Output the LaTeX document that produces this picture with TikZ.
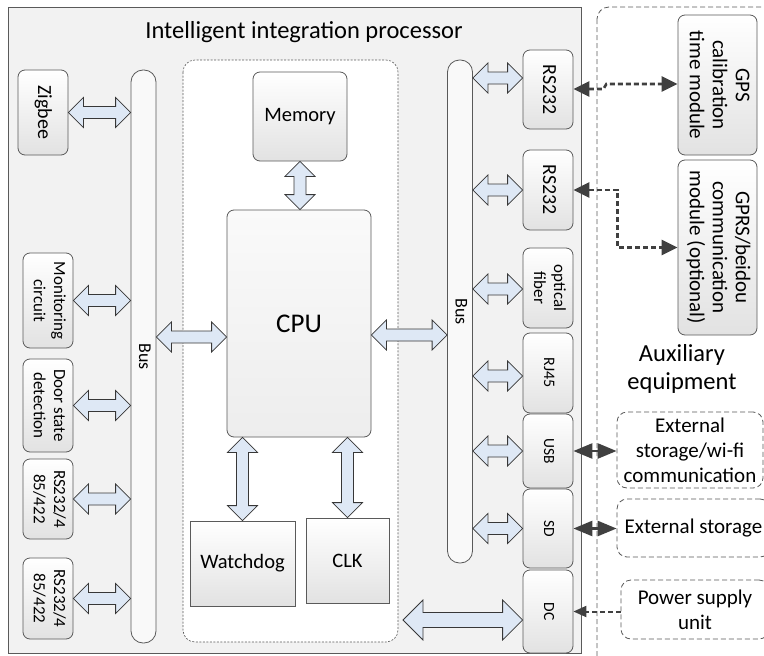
\documentclass[tikz,border=0pt]{standalone}
\usepackage{fontspec}
\setmainfont{Carlito}
\usepackage{graphicx}
\usetikzlibrary{arrows.meta,calc}
\definecolor{procbg}{RGB}{242,242,242}
\definecolor{boxline}{RGB}{90,90,90}
\definecolor{boxlow}{RGB}{226,226,226}
\definecolor{fatfill}{RGB}{222,232,245}
\definecolor{fatline}{RGB}{55,55,55}
\definecolor{linkc}{RGB}{64,64,64}

\newcommand{\vtext}[1]{\rotatebox{-90}{\begin{tabular}{@{}c@{}}#1\end{tabular}}}
\newcommand{\fsz}[2]{\fontsize{#1}{#2}\selectfont}
\def\ahw{15pt}
\def\ash{6pt}
\def\ahl{15pt}

\begin{document}
\begin{tikzpicture}[
    x=1pt, y=-1pt,
    >={Triangle[length=16pt,width=15pt]},
    frame/.style={draw=boxline, line width=0.8pt},
    box/.style={draw=boxline, line width=0.8pt, rounded corners=7pt, top color=white, bottom color=boxlow, inner sep=0pt},
    sqbox/.style={box, rounded corners=0pt},
    port/.style={box, minimum width=50pt, font=\fsz{17}{20}},
    aux/.style={box, minimum width=79pt, font=\fsz{21}{23}},
    bus/.style={draw=boxline, line width=0.8pt, rounded corners=12pt, fill=gray!5, minimum width=25pt, inner sep=0pt, font=\fsz{18}{22}},
    ext/.style={draw=boxline, line width=0.8pt, dash pattern=on 5pt off 3pt, rounded corners=10pt, fill=white, inner sep=0pt, font=\fsz{21}{25}, align=center},
    fat/.style={draw=fatline, fill=fatfill, line width=0.8pt},
    hfat/.style={fat, to path={let \p1=(\tikztostart), \p2=(\tikztotarget) in
      (\x1,\y1) -- (\x1+\ahl,\y1+\ahw) -- (\x1+\ahl,\y1+\ash) -- (\x2-\ahl,\y1+\ash) -- (\x2-\ahl,\y1+\ahw) -- (\x2,\y1)
      -- (\x2-\ahl,\y1-\ahw) -- (\x2-\ahl,\y1-\ash) -- (\x1+\ahl,\y1-\ash) -- (\x1+\ahl,\y1-\ahw) -- cycle}},
    vfat/.style={fat, to path={let \p1=(\tikztostart), \p2=(\tikztotarget) in
      (\x1,\y1) -- (\x1+\ahw,\y1-\ahl) -- (\x1+\ash,\y1-\ahl) -- (\x1+\ash,\y2+\ahl) -- (\x1+\ahw,\y2+\ahl) -- (\x1,\y2)
      -- (\x1-\ahw,\y2+\ahl) -- (\x1-\ash,\y2+\ahl) -- (\x1-\ash,\y1-\ahl) -- (\x1-\ahw,\y1-\ahl) -- cycle}},
    bigfat/.style={hfat, /utils/exec={\def\ahw{20pt}\def\ash{7.5pt}\def\ahl{20pt}}},
    link/.style={draw=linkc, line width=2.6pt, dash pattern=on 5pt off 3pt},
    solidlink/.style={draw=linkc, line width=2.6pt, >={Triangle[length=19pt,width=15pt]}},
  ]
  \useasboundingbox (0,0) rectangle (764,656);

  % frames
  \draw[frame, fill=procbg] (8,7) rectangle (581,653);
  \draw[frame, dash pattern=on 5pt off 3pt, rounded corners=12pt, fill=white] (597,7) rectangle (800,700);
  \draw[draw=boxline, line width=0.6pt, dash pattern=on 2pt off 1.5pt, rounded corners=12pt, fill=white] (183,60) rectangle (398,642);
  \node[font=\fsz{24.5}{29}] (title) at (304,32) {Intelligent integration processor};

  % left bus and its devices
  \node[bus, minimum height=573pt] (busL) at (143.5,356.5) {\vtext{Bus}};
  \node[port, minimum height=85pt, font=\fsz{20}{24}] (zig) at (43,112.5) {\vtext{Zigbee}};
  \node[port, minimum height=95pt] (mon) at (48,300.5) {\vtext{Monitoring\\circuit}};
  \node[port, minimum height=93pt] (door) at (48,405.5) {\vtext{Door state\\detection}};
  \node[port, minimum height=80pt] (rsa) at (48,499) {\vtext{RS232/4\\85/422}};
  \node[port, minimum height=81pt] (rsb) at (48,598.5) {\vtext{RS232/4\\85/422}};

  % processor core
  \node[box, minimum width=94pt, minimum height=89pt, font=\fsz{20.5}{24}] (mem) at (300,116.5) {Memory};
  \node[box, top color=gray!4, bottom color=gray!14, minimum width=144pt, minimum height=227pt, font=\fsz{27}{32}] (cpu) at (299,323.5) {CPU};
  \node[sqbox, minimum width=105pt, minimum height=85pt, font=\fsz{20.5}{24}] (wdg) at (242.5,563.5) {Watchdog};
  \node[sqbox, minimum width=83pt, minimum height=85pt, font=\fsz{20.5}{24}] (clk) at (347.5,560.5) {CLK};

  % right bus and its ports
  \node[bus, minimum height=503pt] (busR) at (460,311.5) {\vtext{Bus}};
  \node[port, minimum height=79pt, font=\fsz{20}{24}] (pa) at (548,89.5) {\vtext{RS232}};
  \node[port, minimum height=80pt, font=\fsz{20}{24}] (pb) at (548,190) {\vtext{RS232}};
  \node[port, minimum height=80pt] (fib) at (548,288) {\vtext{optical\\fiber}};
  \node[port, minimum height=80pt, font=\fsz{16}{20}] (rj) at (548,373) {\vtext{RJ45}};
  \node[port, minimum height=74pt, font=\fsz{15.5}{20}] (usb) at (548,451) {\vtext{USB}};
  \node[port, minimum height=79pt, font=\fsz{15.5}{20}] (sd) at (548,528.5) {\vtext{SD}};
  \node[port, minimum height=83pt, font=\fsz{15.5}{20}] (dc) at (548,611.5) {\vtext{DC}};

  % auxiliary equipment
  \node[aux, minimum height=140pt] (gps) at (717.5,85) {\vtext{GPS\\calibration\\time module}};
  \node[aux, minimum height=175pt] (gprs) at (717.5,247.5) {\vtext{GPRS/beidou\\communication\\module (optional)}};
  \node[font=\fsz{24.5}{28}, align=center] (auxt) at (682,369) {Auxiliary\\equipment};
  \node[ext, minimum width=146pt, minimum height=76pt] (wifi) at (690,450) {External\\storage/wi-fi\\communication};
  \node[ext, minimum width=153pt, minimum height=58pt] (stor) at (693.5,528) {External storage};
  \node[ext, minimum width=148pt, minimum height=59pt] (pwr) at (695,609.5) {Power supply\\unit};

  % block arrows
  \draw[hfat] (zig.east) to (busL.west |- zig.east);
  \draw[hfat] (mon.east) to (busL.west |- mon.east);
  \draw[hfat] (door.east) to (busL.west |- door.east);
  \draw[hfat] (rsa.east) to (busL.west |- rsa.east);
  \draw[hfat] (rsb.east) to (busL.west |- rsb.east);
  \draw[hfat] (busL.east |- 0,337) to (cpu.west |- 0,337);
  \draw[hfat] (cpu.east |- 0,335) to (busR.west |- 0,335);
  \draw[vfat] (mem.south) to (mem.south |- cpu.north);
  \draw[vfat] (cpu.south -| wdg.north) to (wdg.north);
  \draw[vfat] (cpu.south -| clk.north) to (clk.north);
  \draw[hfat] (busR.east |- 0,78) to (pa.west |- 0,78);
  \draw[hfat] (busR.east |- pb.west) to (pb.west);
  \draw[hfat] (busR.east |- 0,289) to (fib.west |- 0,289);
  \draw[hfat] (busR.east |- 0,376) to (rj.west |- 0,376);
  \draw[hfat] (busR.east |- usb.west) to (usb.west);
  \draw[hfat] (busR.east |- sd.west) to (sd.west);
  \coordinate (dcl) at (403,620);
  \draw[bigfat] (dcl) to (dc.west |- dcl);

  % links to the auxiliary equipment
  \draw[link, <->] (pa.east |- 0,89) -- ++(30,0) -- ++(3,-5) -- (gps.west |- 0,84);
  \draw[link, <->] (pb.east) -- ++(44,0) |- (gprs.west);
  \draw[solidlink, <->] (usb.east) -- (wifi.west |- usb.east);
  \draw[solidlink, <->] (sd.east) -- (stor.west |- sd.east);
  \draw[link, line width=2pt, >={Triangle[length=13pt,width=11pt]}, ->] (pwr.west |- dc.east) -- (dc.east);

\end{tikzpicture}
\end{document}
